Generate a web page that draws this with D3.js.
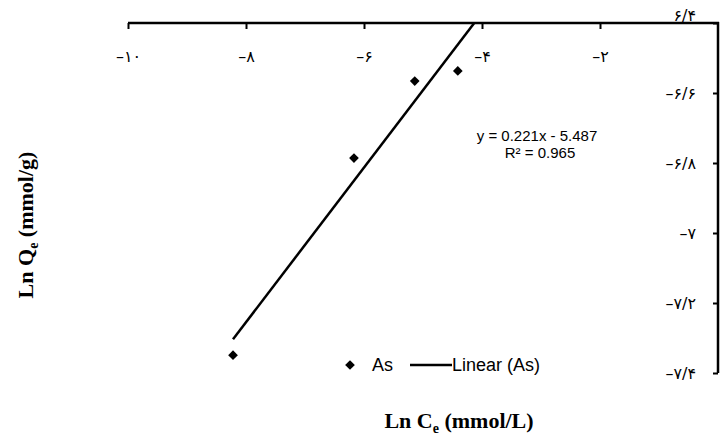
<!DOCTYPE html>
<html>
<head>
<meta charset="UTF-8">
<script src="https://d3js.org/d3.v7.min.js"></script>
<style>
  body { margin: 0; background: #fff; }
  svg { display: block; }
  .tick text { font-family: "DejaVu Sans", sans-serif; font-size: 16px; fill: #000; }
</style>
</head>
<body>
<div id="chart"></div>
<script>
// data
const lnCe = [-8.22, -6.17, -5.14, -4.41];
const lnQe = [-7.349, -6.786, -6.566, -6.537];
const trendSlope = 0.221;
const trendIntercept = -5.487;
const xTicks = [-10, -8, -6, -4, -2];
const xTickLabels = ["\u2013\u06F1\u06F0", "\u2013\u06F8", "\u2013\u06F6", "\u2013\u06F4", "\u2013\u06F2"];
const yTicks = [-6.4, -6.6, -6.8, -7, -7.2, -7.4];
const yTickLabels = ["\u06F6/\u06F4", "\u2013\u06F6/\u06F6", "\u2013\u06F6/\u06F8", "\u2013\u06F7", "\u2013\u06F7/\u06F2", "\u2013\u06F7/\u06F4"];

const width = 722, height = 437;
const svg = d3.select("#chart").append("svg")
  .attr("width", width).attr("height", height);

const x = d3.scaleLinear().domain([-10, 0]).range([128, 718]);
const y = d3.scaleLinear().domain([-6.4, -7.4]).range([23, 373]);

// x axis across the top
const xAxis = svg.append("g")
  .attr("transform", `translate(0,${y(-6.4)})`)
  .call(d3.axisBottom(x).tickValues(xTicks)
    .tickFormat((d, i) => xTickLabels[i]).tickSize(6).tickSizeOuter(0));
xAxis.select(".domain").attr("stroke-width", 2.5).attr("d", `M${x(-10)},0H${x(0) + 1}`);
xAxis.selectAll(".tick line").attr("stroke-width", 2);
xAxis.selectAll(".tick text").attr("y", 28);

// y axis on the right
const yAxis = svg.append("g")
  .attr("transform", `translate(${x(0)},0)`)
  .call(d3.axisLeft(y).tickValues(yTicks)
    .tickFormat((d, i) => yTickLabels[i]).tickSize(5).tickSizeOuter(0));
yAxis.select(".domain").attr("stroke-width", 2.5).attr("d", `M0,${y(-6.4) - 1}V${y(-7.4)}`);
yAxis.selectAll(".tick line").attr("stroke-width", 2);
yAxis.selectAll(".tick text").attr("x", -22);
yAxis.selectAll(".tick").filter(d => d === -6.4).select("text").attr("dy", "-0.15em");

// trendline, clipped at the top of the plot
svg.append("clipPath").attr("id", "plot")
  .append("rect").attr("x", x(-10)).attr("y", y(-6.4))
  .attr("width", x(0) - x(-10)).attr("height", y(-7.4) - y(-6.4));

const xMin = d3.min(lnCe), xEnd = 0;
svg.append("line")
  .attr("clip-path", "url(#plot)")
  .attr("x1", x(xMin)).attr("y1", y(trendSlope * xMin + trendIntercept))
  .attr("x2", x(xEnd)).attr("y2", y(trendSlope * xEnd + trendIntercept))
  .attr("stroke", "#000").attr("stroke-width", 2.5);

// points
const diamond = d3.symbol().type(d3.symbolDiamond2).size(60);
svg.selectAll(".pt").data(lnCe).enter().append("path")
  .attr("class", "pt")
  .attr("d", diamond)
  .attr("transform", (d, i) => `translate(${x(d)},${y(lnQe[i])})`)
  .attr("fill", "#000");

// equation
svg.append("text").attr("x", 537).attr("y", 141).attr("text-anchor", "middle")
  .attr("font-family", "Liberation Sans, Arial, sans-serif").attr("font-size", 15)
  .text("y = 0.221x - 5.487");
svg.append("text").attr("x", 540).attr("y", 158).attr("text-anchor", "middle")
  .attr("font-family", "Liberation Sans, Arial, sans-serif").attr("font-size", 15)
  .text("R\u00B2 = 0.965");

// legend
const leg = svg.append("g").attr("transform", "translate(350,365)");
leg.append("path").attr("d", diamond).attr("fill", "#000");
leg.append("text").attr("x", 22).attr("y", 6)
  .attr("font-family", "Liberation Sans, Arial, sans-serif").attr("font-size", 18)
  .text("As");
leg.append("line").attr("x1", 60).attr("x2", 102).attr("y1", 0).attr("y2", 0)
  .attr("stroke", "#000").attr("stroke-width", 2.5);
leg.append("text").attr("x", 102).attr("y", 6)
  .attr("font-family", "Liberation Sans, Arial, sans-serif").attr("font-size", 18)
  .text("Linear (As)");

// axis titles
const xt = svg.append("text").attr("x", 459).attr("y", 428).attr("text-anchor", "middle")
  .attr("font-family", "Liberation Serif, Times New Roman, serif")
  .attr("font-weight", "bold").attr("font-size", 22);
xt.append("tspan").text("Ln C");
xt.append("tspan").attr("font-size", 14).attr("dy", 5).text("e");
xt.append("tspan").attr("dy", -5).text(" (mmol/L)");

const yt = svg.append("text").attr("transform", "translate(33,225) rotate(-90)")
  .attr("text-anchor", "middle")
  .attr("font-family", "Liberation Serif, Times New Roman, serif")
  .attr("font-weight", "bold").attr("font-size", 22);
yt.append("tspan").text("Ln Q");
yt.append("tspan").attr("font-size", 14).attr("dy", 5).text("e");
yt.append("tspan").attr("dy", -5).text(" (mmol/g)");
</script>
</body>
</html>
